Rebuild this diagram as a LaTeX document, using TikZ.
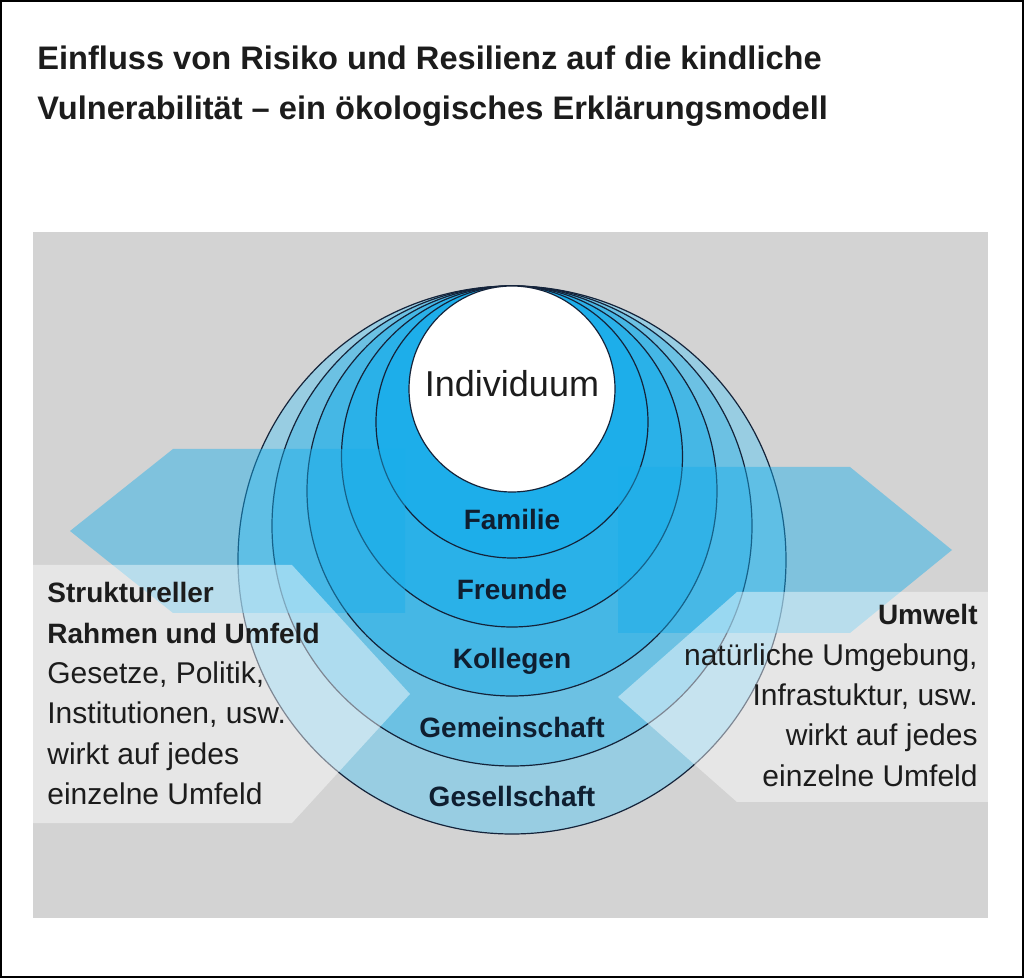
\documentclass[tikz,border=0pt]{standalone}
\usepackage{fontspec}
\setmainfont{Liberation Sans}
\usepackage{xcolor}
\usetikzlibrary{positioning}

\definecolor{bggrey}{HTML}{D3D3D3}
\definecolor{ringline}{HTML}{14233A}
\definecolor{labelnavy}{HTML}{0F1E30}
\definecolor{textdark}{HTML}{1C1C1C}
\definecolor{flowblue}{HTML}{1AAEEA}
\definecolor{ringges}{HTML}{98CDE2}
\definecolor{ringgem}{HTML}{6CC1E3}
\definecolor{ringkol}{HTML}{45B7E5}
\definecolor{ringfre}{HTML}{2AB1E8}
\definecolor{ringfam}{HTML}{1DAEEA}

\newcommand{\sidehead}[1]{{\fontsize{14}{20.2}\selectfont\bfseries #1}}

\begin{document}
\begin{tikzpicture}[
  x=0.5pt, y=-0.5pt,
  ring/.style={draw=ringline, line width=0.6pt},
  ringlabel/.style={font=\fontsize{14}{16}\selectfont\bfseries,
    text=labelnavy, inner sep=0pt, anchor=base},
  flow/.style={fill=flowblue, fill opacity=0.45},
  infobox/.style={fill=white, fill opacity=0.45},
  sidetext/.style={font=\fontsize{15}{20.2}\selectfont, text=textdark,
    inner sep=0pt},
  titletext/.style={font=\fontsize{16.3}{20}\selectfont\bfseries,
    text=textdark, inner sep=0pt, anchor=base west},
]
\useasboundingbox (0,0) rectangle (1024,978);
\draw[line width=1pt] (1,1) rectangle (1023,977);

% title
\node[titletext] (title1) at (37,70)
  {Einfluss von Risiko und Resilienz auf die kindliche};
\node[titletext] (title2) at (37,120)
  {Vulnerabilität – ein ökologisches Erklärungsmodell};

% grey field
\fill[bggrey] (33,232) rectangle (988,918);

% nested spheres, all touching at the top
\foreach \r/\c in {274/ringges, 240/ringgem, 205/ringkol,
                   170.5/ringfre, 136/ringfam, 103/white}
  \draw[ring, fill=\c] (512,286+\r) circle[radius=\r];

% arrows
\fill[flow] (405,449) -- (173,449) -- (70,531) -- (173,613)
  -- (405,613) -- cycle;
\fill[flow] (618,467) -- (850,467) -- (952,550) -- (850,633)
  -- (618,633) -- cycle;

% text fields
\fill[infobox] (33,565) -- (292,565) -- (410,694) -- (292,823)
  -- (33,823) -- cycle;
\fill[infobox] (988,592) -- (737,592) -- (618,697) -- (737,802)
  -- (988,802) -- cycle;

% labels
\node[font=\fontsize{18}{20}\selectfont, text=textdark, inner sep=0pt,
  anchor=base] (ind) at (512,397) {Individuum};
\node[ringlabel] (fam) at (512,530) {Familie};
\node[ringlabel] (fre) at (512,600) {Freunde};
\node[ringlabel] (kol) at (512,669) {Kollegen};
\node[ringlabel] (gem) at (512,738) {Gemeinschaft};
\node[ringlabel] (ges) at (512,806) {Gesellschaft};

\node[sidetext, anchor=north west, align=left] (struk) at (47,582)
  {\sidehead{Struktureller}\\ \sidehead{Rahmen und Umfeld}\\
   Gesetze, Politik,\\ Institutionen, usw.\\ wirkt auf jedes\\
   einzelne Umfeld};
\node[sidetext, anchor=north east, align=right] (umw) at (978,604)
  {\sidehead{Umwelt}\\ natürliche Umgebung,\\ Infrastuktur, usw.\\
   wirkt auf jedes\\ einzelne Umfeld};
\end{tikzpicture}
\end{document}
